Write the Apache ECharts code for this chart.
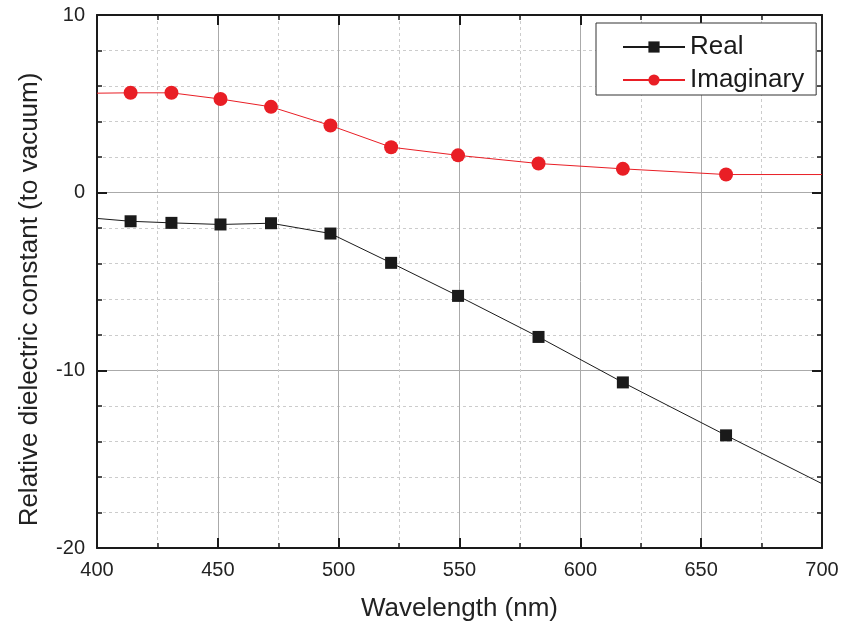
<!DOCTYPE html>
<html><head><meta charset="utf-8">
<script src="https://cdn.jsdelivr.net/npm/echarts@6/dist/echarts.min.js"></script>
<style>html,body{margin:0;padding:0;background:#fff}#c{width:842px;height:629px}</style>
</head><body><div id="c"></div>
<script>
// wavelengths of plotted markers (nm); first/last are edge points of the line (no marker)
const wavelength = [400, 413.9, 430.8, 451.1, 472.0, 496.6, 521.7, 549.4, 582.7, 617.6, 660.3, 700];
const realValues = [-1.45, -1.61, -1.70, -1.79, -1.72, -2.30, -3.95, -5.81, -8.12, -10.68, -13.66, -16.38];
const imagValues = [5.6, 5.62, 5.62, 5.27, 4.83, 3.78, 2.56, 2.10, 1.64, 1.34, 1.02, 1.02];
const markerFlags = [false, true, true, true, true, true, true, true, true, true, true, false];
const xTicks = [400, 450, 500, 550, 600, 650, 700];
const yTicks = [-20, -10, 0, 10];

const font = 'Liberation Sans, Arial, sans-serif';
function build(vals){
  return wavelength.map((w,i)=> markerFlags[i] ? [w, vals[i]] : {value:[w, vals[i]], symbol:'none'});
}
const chart = echarts.init(document.getElementById('c'), null, {renderer:'canvas'});
const baseX = {
  type:'value', min:xTicks[0], max:xTicks[xTicks.length-1], interval:50,
  axisLine:{show:true, onZero:false, lineStyle:{color:'#1a1a1a', width:2}},
  axisTick:{show:true, inside:true, length:10, lineStyle:{color:'#1a1a1a', width:2}},
  minorTick:{show:true, splitNumber:2, length:5, lineStyle:{color:'#1a1a1a', width:1.5}},
};
const baseY = {
  type:'value', min:yTicks[0], max:yTicks[yTicks.length-1], interval:10,
  axisLine:{show:true, onZero:false, lineStyle:{color:'#1a1a1a', width:2}},
  axisTick:{show:true, inside:true, length:10, lineStyle:{color:'#1a1a1a', width:2}},
  minorTick:{show:true, splitNumber:5, length:5, lineStyle:{color:'#1a1a1a', width:1.5}},
};
chart.setOption({
  animation:false,
  backgroundColor:'#fff',
  grid:{left:97, right:20, top:15, bottom:81},
  legend:{
    orient:'vertical', left:596, top:23,
    data:['Real','Imaginary'],
    itemWidth:62, itemHeight:14, itemGap:7,
    padding:[11, 12, 2, 26],
    borderColor:'#333', borderWidth:1, backgroundColor:'#fff',
    textStyle:{fontFamily:font, fontSize:26, color:'#1a1a1a'}
  },
  xAxis:[
    Object.assign({}, baseX, {
      position:'bottom',
      name:'Wavelength (nm)', nameLocation:'middle', nameGap:48,
      nameTextStyle:{fontFamily:font, fontSize:26, color:'#222'},
      axisLabel:{show:true, margin:12, fontFamily:font, fontSize:20, color:'#222'},
      splitLine:{show:true, lineStyle:{color:'#aaaaaa', width:1}},
      minorSplitLine:{show:true, lineStyle:{color:'#cccccc', width:1, type:[3,3]}}
    }),
    Object.assign({}, baseX, {position:'top', axisLabel:{show:false}, splitLine:{show:false}})
  ],
  yAxis:[
    Object.assign({}, baseY, {
      position:'left',
      name:'Relative dielectric constant (to vacuum)', nameLocation:'middle', nameGap:54,
      nameTextStyle:{fontFamily:font, fontSize:26, color:'#222', padding:[0, 36, 0, 0]},
      axisLabel:{show:true, margin:12, fontFamily:font, fontSize:20, color:'#222'},
      splitLine:{show:true, lineStyle:{color:'#aaaaaa', width:1}},
      minorSplitLine:{show:true, lineStyle:{color:'#cccccc', width:1, type:[3,3]}}
    }),
    Object.assign({}, baseY, {position:'right', axisLabel:{show:false}, splitLine:{show:false}})
  ],
  series:[
    {name:'Real', type:'line', data:build(realValues), symbol:'rect', symbolSize:12,
     itemStyle:{color:'#1a1a1a'}, lineStyle:{color:'#1a1a1a', width:1}, z:3},
    {name:'Imaginary', type:'line', data:build(imagValues), symbol:'circle', symbolSize:14,
     itemStyle:{color:'#e91e25'}, lineStyle:{color:'#e91e25', width:1}, z:3}
  ]
});
</script></body></html>
